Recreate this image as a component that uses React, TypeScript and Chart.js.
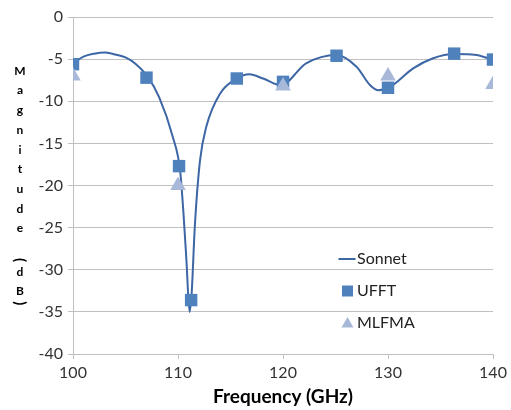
import React, { useEffect, useRef } from 'react';
import { Chart, registerables } from 'chart.js';
Chart.register(...registerables);

// Sonnet (continuous simulation curve)
const sonnetFreq = [100, 101, 102, 103, 104, 105, 106, 107, 108.2, 109.5, 110.2, 110.5, 110.8, 111.1, 111.3, 111.6, 112.1, 112.7, 114, 115.6, 116.8, 118.1, 119.8, 122.2, 125.1, 127, 128.3, 129.1, 130.2, 132.4, 134.3, 136.3, 138.4, 140];
const sonnetDb = [-5.5, -4.7, -4.35, -4.2, -4.45, -4.8, -5.6, -6.9, -9.5, -14.2, -18.2, -22.9, -28.8, -35.0, -32.8, -24.9, -17.0, -13.0, -9.1, -7.3, -6.8, -7.3, -8.1, -5.5, -4.5, -5.9, -8.1, -8.7, -8.3, -6.1, -4.9, -4.4, -4.5, -5.1];

// UFFT
const ufftFreq = [100, 107, 110.1, 111.25, 115.6, 120, 125.1, 130, 136.3, 140];
const ufftDb = [-5.6, -7.2, -17.7, -33.6, -7.3, -7.7, -4.6, -8.4, -4.35, -5.05];

// MLFMA
const mlfmaFreq = [100, 110, 120, 130, 140];
const mlfmaDb = [-7.0, -20.0, -8.2, -7.0, -8.0];

const xMin = 100, xMax = 140, xStep = 10;
const yMin = -40, yMax = 0, yStep = 5;

const xTitle = 'Frequency (GHz)';
const yTitle = 'Magnitude (dB)';
const seriesNames = ['Sonnet', 'UFFT', 'MLFMA'];

const lineColor = '#3d66a5';
const squareColor = '#4f81bd';
const triColor = '#a8b8d9';
const gridColor = '#c0c0c0';
const FONT = 'Lato, "Open Sans", sans-serif';

const yTitlePlugin = {
  id: 'yTitleStacked',
  afterDraw(chart: any) {
    const ctx = chart.ctx;
    ctx.save();
    ctx.fillStyle = '#000';
    ctx.textAlign = 'center';
    ctx.textBaseline = 'middle';
    const x = 20;
    let y = 61;
    const step = 19.7;
    for (const ch of yTitle) {
      if (ch === '(' || ch === ')') {
        const h = 4;
        const cy = y + h / 2;
        ctx.save();
        ctx.font = `bold 15px ${FONT}`;
        ctx.translate(x, cy);
        ctx.rotate(Math.PI / 2);
        ctx.fillText(ch, 0, 0);
        ctx.restore();
        y += h;
      } else {
        const cy = y + step / 2;
        ctx.font = `bold 12px ${FONT}`;
        if (ch !== ' ') ctx.fillText(ch, x, cy);
        y += step;
      }
    }
    ctx.restore();
  },
};

const legendPlugin = {
  id: 'customLegend',
  afterDraw(chart: any) {
    const ctx = chart.ctx;
    const { left } = chart.chartArea;
    const mx = left + 274.5;
    const tx = left + 284;
    const ys = [259, 291, 323];
    ctx.save();
    ctx.strokeStyle = lineColor;
    ctx.lineWidth = 2;
    ctx.beginPath();
    ctx.moveTo(mx - 9, ys[0]);
    ctx.lineTo(mx + 8, ys[0]);
    ctx.stroke();
    ctx.fillStyle = squareColor;
    ctx.fillRect(mx - 5.5, ys[1] - 5.5, 11, 11);
    ctx.fillStyle = triColor;
    ctx.beginPath();
    ctx.moveTo(mx, ys[2] - 6);
    ctx.lineTo(mx + 6, ys[2] + 4.5);
    ctx.lineTo(mx - 6, ys[2] + 4.5);
    ctx.closePath();
    ctx.fill();
    ctx.fillStyle = '#222';
    ctx.font = `16px ${FONT}`;
    ctx.textAlign = 'left';
    ctx.textBaseline = 'middle';
    seriesNames.forEach((n, i) => ctx.fillText(n, tx, ys[i]));
    ctx.restore();
  },
};

export default function App() {
  const ref = useRef<HTMLCanvasElement>(null);
  useEffect(() => {
    if (!ref.current) return;
    const chart = new Chart(ref.current, {
      type: 'scatter',
      data: {
        datasets: [
          {
            label: seriesNames[0],
            data: sonnetFreq.map((f, i) => ({ x: f, y: sonnetDb[i] })),
            showLine: true,
            borderColor: lineColor,
            borderWidth: 2,
            pointRadius: 0,
            cubicInterpolationMode: 'monotone',
            order: 3,
          },
          {
            label: seriesNames[1],
            data: ufftFreq.map((f, i) => ({ x: f, y: ufftDb[i] })),
            pointStyle: 'rect',
            pointRadius: 8.8,
            backgroundColor: squareColor,
            borderColor: squareColor,
            borderWidth: 0,
            order: 2,
          },
          {
            label: seriesNames[2],
            data: mlfmaFreq.map((f, i) => ({ x: f, y: mlfmaDb[i] })),
            pointStyle: 'triangle',
            pointRadius: 9,
            backgroundColor: triColor,
            borderColor: triColor,
            borderWidth: 0,
            order: 1,
          },
        ],
      },
      options: {
        responsive: false,
        animation: false,
        devicePixelRatio: 1,
        layout: { padding: { left: 0, right: 18, top: 17, bottom: 0 } },
        plugins: { legend: { display: false }, tooltip: { enabled: false } },
        scales: {
          x: {
            type: 'linear',
            min: xMin,
            max: xMax,
            ticks: { stepSize: xStep, color: '#333', font: { family: FONT, size: 16 }, padding: 4 },
            grid: { drawOnChartArea: false, drawTicks: true, tickLength: 5, color: gridColor },
            border: { color: gridColor },
            title: {
              display: true,
              text: xTitle,
              color: '#000',
              font: { family: FONT, size: 19, weight: 'bold' },
              padding: { top: 0, bottom: 2 },
            },
            afterFit: (s: any) => { s.height = 56; },
          },
          y: {
            min: yMin,
            max: yMax,
            ticks: { stepSize: yStep, color: '#333', font: { family: FONT, size: 16 }, padding: 5 },
            grid: { color: gridColor, tickLength: 5 },
            border: { color: gridColor },
            afterFit: (s: any) => { s.width = 73; },
          },
        },
      },
      plugins: [yTitlePlugin, legendPlugin],
    } as any);
    return () => chart.destroy();
  }, []);
  return (
    <div style={{ position: 'absolute', left: 0, top: 0, width: 511, height: 410, background: '#fff' }}>
      <canvas ref={ref} width={511} height={410} />
    </div>
  );
}
